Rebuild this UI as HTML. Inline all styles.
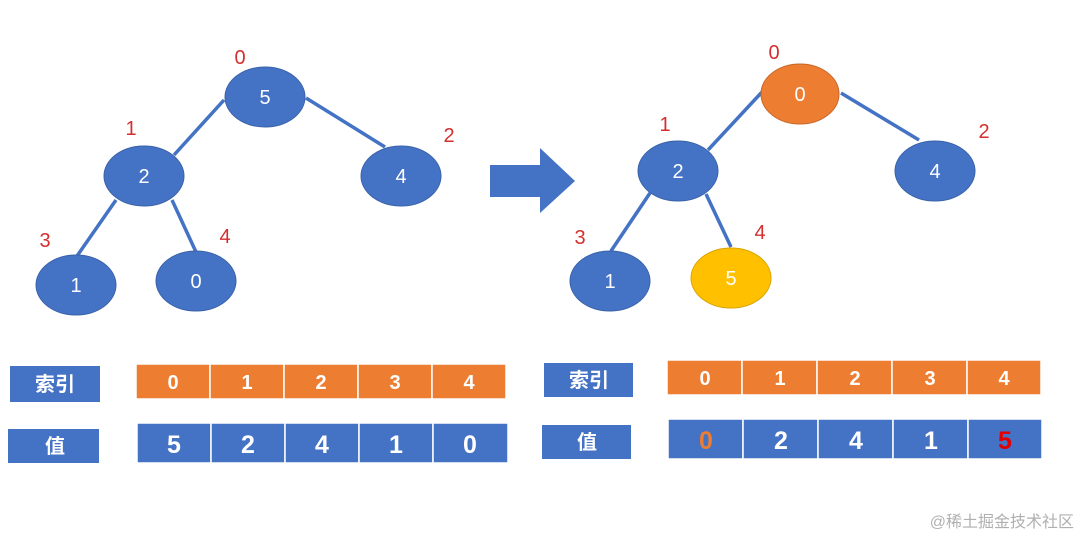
<!DOCTYPE html>
<html><head><meta charset="utf-8"><style>
html,body{margin:0;padding:0;background:#fff;}
svg{display:block;}
text{font-family:"Liberation Sans","Noto Sans CJK SC",sans-serif;}
</style></head><body>
<svg width="1080" height="536" viewBox="0 0 1080 536" xmlns="http://www.w3.org/2000/svg">
<g stroke="#4472c4" stroke-width="3.5">
<line x1="224" y1="100" x2="174" y2="155"/>
<line x1="306" y1="98" x2="385" y2="147"/>
<line x1="116" y1="200" x2="77" y2="256"/>
<line x1="172" y1="200" x2="196" y2="252"/>
<line x1="762" y1="92" x2="708" y2="150"/>
<line x1="841" y1="93" x2="919" y2="140"/>
<line x1="650" y1="193" x2="611" y2="251"/>
<line x1="706" y1="194" x2="731" y2="247"/>
</g>
<g fill="#4472c4" stroke="#3a62a8" stroke-width="1">
<ellipse cx="265" cy="97" rx="40" ry="30"/>
<ellipse cx="144" cy="176" rx="40" ry="30"/>
<ellipse cx="401" cy="176" rx="40" ry="30"/>
<ellipse cx="76" cy="285" rx="40" ry="30"/>
<ellipse cx="196" cy="281" rx="40" ry="30"/>
<ellipse cx="678" cy="171" rx="40" ry="30"/>
<ellipse cx="935" cy="171" rx="40" ry="30"/>
<ellipse cx="610" cy="281" rx="40" ry="30"/>
</g>
<ellipse cx="800" cy="94" rx="39" ry="30" fill="#ed7d31" stroke="#c8672a"/>
<ellipse cx="731" cy="278" rx="40" ry="30" fill="#ffc000" stroke="#d9a300"/>
<g fill="#fff" font-size="20" text-anchor="middle">
<text x="265" y="104">5</text><text x="144" y="183">2</text><text x="401" y="183">4</text>
<text x="76" y="292">1</text><text x="196" y="288">0</text>
<text x="800" y="101">0</text><text x="678" y="178">2</text><text x="935" y="178">4</text>
<text x="610" y="288">1</text><text x="731" y="285">5</text>
</g>
<g fill="#d32f2f" font-size="20" text-anchor="middle">
<text x="240" y="64">0</text><text x="131" y="135">1</text><text x="449" y="142">2</text>
<text x="45" y="247">3</text><text x="225" y="243">4</text>
<text x="774" y="59">0</text><text x="665" y="131">1</text><text x="984" y="138">2</text>
<text x="580" y="244">3</text><text x="760" y="239">4</text>
</g>
<polygon points="490,165 540,165 540,148 575,181 540,213 540,197 490,197" fill="#4472c4"/>
<!-- left tables -->
<rect x="10" y="366" width="90" height="36" fill="#4472c4"/>
<text x="55" y="391" fill="#fff" font-size="20" font-weight="bold" text-anchor="middle">索引</text>
<rect x="8" y="429" width="91" height="34" fill="#4472c4"/>
<text x="55" y="453" fill="#fff" font-size="20" font-weight="bold" text-anchor="middle">值</text>
<g fill="#ed7d31" stroke="#fff" stroke-width="1.5">
<rect x="136" y="364" width="74" height="35"/><rect x="210" y="364" width="74" height="35"/><rect x="284" y="364" width="74" height="35"/><rect x="358" y="364" width="74" height="35"/><rect x="432" y="364" width="74" height="35"/>
</g>
<g fill="#4472c4" stroke="#fff" stroke-width="1.5">
<rect x="137" y="423" width="74" height="40"/><rect x="211" y="423" width="74" height="40"/><rect x="285" y="423" width="74" height="40"/><rect x="359" y="423" width="74" height="40"/><rect x="433" y="423" width="75" height="40"/>
</g>
<g fill="#fff" font-size="20" font-weight="bold" text-anchor="middle">
<text x="173" y="389">0</text><text x="247" y="389">1</text><text x="321" y="389">2</text><text x="395" y="389">3</text><text x="469" y="389">4</text>
</g>
<g fill="#fff" font-size="25" font-weight="bold" text-anchor="middle">
<text x="174" y="453">5</text><text x="248" y="453">2</text><text x="322" y="453">4</text><text x="396" y="453">1</text><text x="470" y="453">0</text>
</g>
<!-- right tables -->
<rect x="544" y="363" width="89" height="34" fill="#4472c4"/>
<text x="589" y="387" fill="#fff" font-size="20" font-weight="bold" text-anchor="middle">索引</text>
<rect x="542" y="425" width="89" height="34" fill="#4472c4"/>
<text x="587" y="449" fill="#fff" font-size="20" font-weight="bold" text-anchor="middle">值</text>
<g fill="#ed7d31" stroke="#fff" stroke-width="1.5">
<rect x="667" y="360" width="75" height="35"/><rect x="742" y="360" width="75" height="35"/><rect x="817" y="360" width="75" height="35"/><rect x="892" y="360" width="75" height="35"/><rect x="967" y="360" width="74" height="35"/>
</g>
<g fill="#4472c4" stroke="#fff" stroke-width="1.5">
<rect x="668" y="419" width="75" height="40"/><rect x="743" y="419" width="75" height="40"/><rect x="818" y="419" width="75" height="40"/><rect x="893" y="419" width="75" height="40"/><rect x="968" y="419" width="74" height="40"/>
</g>
<g fill="#fff" font-size="20" font-weight="bold" text-anchor="middle">
<text x="705" y="385">0</text><text x="780" y="385">1</text><text x="855" y="385">2</text><text x="930" y="385">3</text><text x="1004" y="385">4</text>
</g>
<g font-size="25" font-weight="bold" text-anchor="middle">
<text x="706" y="449" fill="#ed7d31">0</text><text x="781" y="449" fill="#fff">2</text><text x="856" y="449" fill="#fff">4</text><text x="931" y="449" fill="#fff">1</text><text x="1005" y="449" fill="#e00000">5</text>
</g>
<text x="1074" y="527" fill="#b0b0b0" font-size="16" text-anchor="end">@稀土掘金技术社区</text>
</svg>
</body></html>
